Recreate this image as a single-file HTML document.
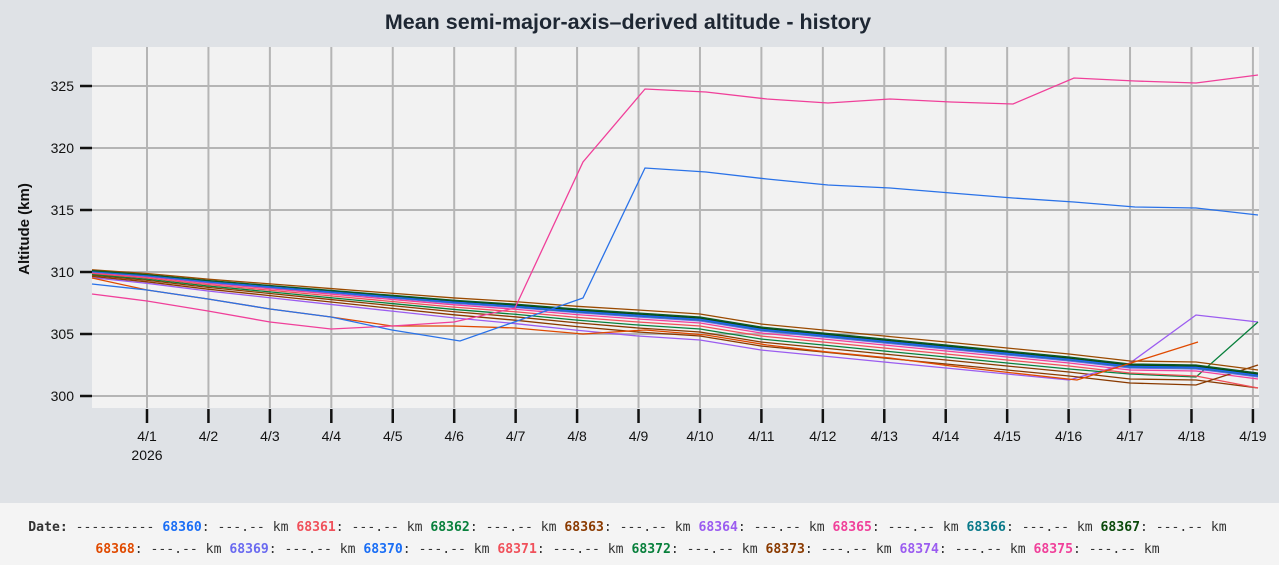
<!DOCTYPE html>
<html><head><meta charset="utf-8">
<style>
body{margin:0;width:1279px;height:565px;background:#dfe2e6;font-family:"Liberation Sans",sans-serif;overflow:hidden;position:relative}
#leg{position:absolute;left:0;top:503px;width:1279px;height:62px;background:#f4f4f4;font-family:"DejaVu Sans Mono","Liberation Mono",monospace;font-size:13.1px;color:#333;text-align:center;line-height:22px;padding-top:14px;padding-right:24px;box-sizing:border-box;white-space:nowrap}
#leg b{font-weight:bold}
</style></head><body>
<svg id="s" width="1279" height="503" style="position:absolute;left:0;top:0">
<rect x="92" y="47" width="1167" height="361" fill="#f2f2f2"/>
<text x="628" y="29" text-anchor="middle" font-size="21.5" font-weight="bold" fill="#1e2733">Mean semi-major-axis–derived altitude - history</text>
<text transform="translate(29,229) rotate(-90)" text-anchor="middle" font-size="15" font-weight="bold" fill="#111">Altitude (km)</text>
<g id="grid"></g><g id="lines" fill="none" stroke-width="1.3"></g>
</svg>
<div id="leg">
<b>Date:</b> ---------- <b style="color:#1a6ef5">68360</b>: ---.-- km <b style="color:#f0505a">68361</b>: ---.-- km <b style="color:#08803c">68362</b>: ---.-- km <b style="color:#8a3a00">68363</b>: ---.-- km <b style="color:#9b5cf0">68364</b>: ---.-- km <b style="color:#f0409a">68365</b>: ---.-- km <b style="color:#0a7a8a">68366</b>: ---.-- km <b style="color:#0a4a0a">68367</b>: ---.-- km<br>
<b style="color:#e04a00">68368</b>: ---.-- km <b style="color:#6a6af0">68369</b>: ---.-- km <b style="color:#1a6ef5">68370</b>: ---.-- km <b style="color:#f0505a">68371</b>: ---.-- km <b style="color:#08803c">68372</b>: ---.-- km <b style="color:#8a3a00">68373</b>: ---.-- km <b style="color:#9b5cf0">68374</b>: ---.-- km <b style="color:#f0409a">68375</b>: ---.-- km
</div>
<script>
var ns="http://www.w3.org/2000/svg",g=document.getElementById('grid'),L=document.getElementById('lines');
function el(p,t,a,txt){var e=document.createElementNS(ns,t);for(var k in a)e.setAttribute(k,a[k]);if(txt)e.textContent=txt;p.appendChild(e);return e;}
for(var d=1;d<=19;d++){var x=147+(d-1)*61.44;
el(g,'line',{x1:x,y1:47,x2:x,y2:408,stroke:'#b5b5b5','stroke-width':2});
el(g,'line',{x1:x,y1:409,x2:x,y2:423,stroke:'#111','stroke-width':2.5});
el(g,'text',{x:x,y:441,'text-anchor':'middle','font-size':14,fill:'#111'},'4/'+d);}
el(g,'text',{x:147,y:460,'text-anchor':'middle','font-size':14,fill:'#111'},'2026');
for(var a=300;a<=325;a+=5){var y=396-(a-300)*12.4;
el(g,'line',{x1:92,y1:y,x2:1259,y2:y,stroke:'#b5b5b5','stroke-width':2});
el(g,'line',{x1:80,y1:y,x2:92,y2:y,stroke:'#111','stroke-width':2.5});
el(g,'text',{x:74,y:y+5,'text-anchor':'end','font-size':14,fill:'#111'},a);}
var xs=[92,147,208,270,331,392,454,515,577,638,700,761,823,884,946,1007,1069,1130,1196,1258];
var m=[271,275,281,286,291,296,301,305,310,314,318,328,334,340,346,352,358,365,366,374];
function pl(pts,c,w){el(L,'polyline',{points:pts.map(function(p){return p.join(',')}).join(' '),stroke:c,'stroke-width':w||1.3});}
function off(o,c,mod){var p=[];for(var i=0;i<xs.length;i++){var f=i<10?0.3+0.7*i/9:1;p.push([xs[i],m[i]+o*f]);}if(mod)mod(p);pl(p,c);}
off(14,'#8a3a00');off(22,'#9b5cf0',function(p){p[17][1]=363;p[18][1]=315;p[19][1]=322;});
off(11,'#08803c',function(p){p[17][1]=374;p[19][1]=322;});
off(8,'#f0505a',function(p){p[18][1]=376;p[19][1]=388;});
off(5,'#f0409a');
off(18,'#8a3a00',function(p){p[18][1]=385;p[19][1]=365;});
off(-4,'#9a4a00',function(p){p[18][1]=362;p[19][1]=370;});
off(3,'#6a6af0');off(2,'#0a7a8a');off(1,'#1a6ef5');off(0,'#0a4a0a');off(1.5,'#2266ee');off(-1,'#0a5a2a');
pl([[92,278],[147,290],[208,299],[270,309],[331,317],[392,326],[454,326],[515,328],[583,334],[645,330],[706,335],[767,345],[828,352],[890,358],[951,366],[1013,373],[1077,380],[1198,342]],'#e04a00');
pl([[92,294],[147,301],[208,311],[270,322],[331,329],[392,326],[454,322],[515,308],[583,162],[645,89],[706,92],[767,99],[828,103],[890,99],[951,102],[1013,104],[1074,78],[1135,81],[1196,83],[1258,75]],'#f0409a');
pl([[92,284],[147,290],[208,299],[270,309],[331,317],[392,330],[460,341],[520,320],[583,298],[645,168],[706,172],[767,179],[828,185],[890,188],[951,193],[1013,198],[1074,202],[1135,207],[1196,208],[1258,215]],'#2a72e8');
</script>
</body></html>
